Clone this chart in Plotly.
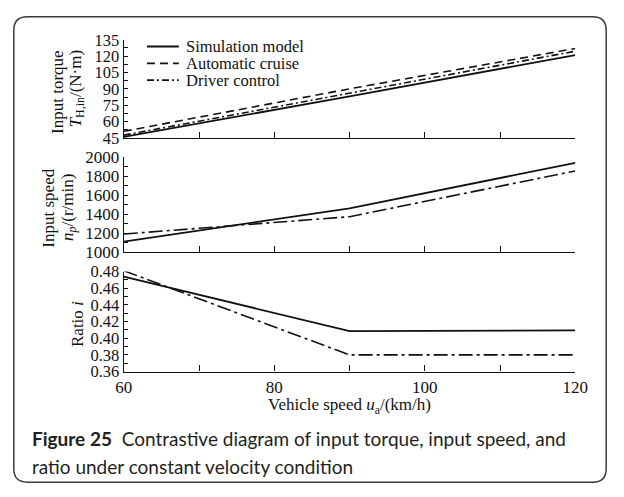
import plotly.graph_objects as go

# ---------------- data ----------------
speed = [60, 90, 120]
torque_sim = [46, 83, 121]
torque_auto = [51, 90, 127]
torque_driver = [47.5, 86, 124.5]
inspeed_sim = [1112, 1462, 1940]
inspeed_driver = [1192, 1374, 1855]
ratio_sim = [0.474, 0.4085, 0.4095]
ratio_driver = [0.481, 0.380, 0.380]

x_tickvals = [60, 80, 100, 120]
x_ticktext = ["60", "80", "100", "120"]
torque_ticks = [45, 60, 75, 90, 105, 120, 135]
inspeed_ticks = [1000, 1200, 1400, 1600, 1800, 2000]
ratio_ticks = [0.36, 0.38, 0.40, 0.42, 0.44, 0.46, 0.48]
ratio_ticktext = ["0.36", "0.38", "0.40", "0.42", "0.44", "0.46", "0.48"]

series_names = ["Simulation model", "Automatic cruise", "Driver control"]

# ---------------- geometry helpers ----------------
W, H = 624, 497
def px(x):
    return x / W
def py(y):
    return (H - y) / H

SERIF = "Liberation Serif, Times New Roman, serif"
BLACK = "#111111"

fig = go.Figure()

solid = dict(color=BLACK, width=1.8)
dashed = dict(color=BLACK, width=1.6, dash="8px,5px")
dashdot_top = dict(color=BLACK, width=1.6, dash="7px,3px,2px,3px")
dashdot_low = dict(color=BLACK, width=1.6, dash="14px,4px,3px,4px")

fig.add_trace(go.Scatter(x=speed, y=torque_sim, mode="lines", line=solid, name=series_names[0], xaxis="x", yaxis="y", showlegend=False))
fig.add_trace(go.Scatter(x=speed, y=torque_auto, mode="lines", line=dashed, name=series_names[1], xaxis="x", yaxis="y", showlegend=False))
fig.add_trace(go.Scatter(x=speed, y=torque_driver, mode="lines", line=dashdot_top, name=series_names[2], xaxis="x", yaxis="y", showlegend=False))

fig.add_trace(go.Scatter(x=speed, y=inspeed_sim, mode="lines", line=solid, name=series_names[0], xaxis="x2", yaxis="y2", showlegend=False))
fig.add_trace(go.Scatter(x=speed, y=inspeed_driver, mode="lines", line=dashdot_low, name=series_names[2], xaxis="x2", yaxis="y2", showlegend=False))

fig.add_trace(go.Scatter(x=speed, y=ratio_sim, mode="lines", line=solid, name=series_names[0], xaxis="x3", yaxis="y3", showlegend=False))
fig.add_trace(go.Scatter(x=speed, y=ratio_driver, mode="lines", line=dashdot_low, name=series_names[2], xaxis="x3", yaxis="y3", showlegend=False))

xdom = [px(119), px(587)]
doms = [[py(134), py(32)], [py(253), py(154)], [py(377), py(273)]]

def tfont(size):
    return dict(family=SERIF, size=size, color=BLACK)

def xaxis(anchor, labels):
    return dict(domain=xdom, anchor=anchor, range=[60, 120], showline=True, linecolor=BLACK, linewidth=1.3,
                ticks="inside", ticklen=6, tickwidth=1.2, tickcolor=BLACK, tickvals=x_tickvals,
                ticktext=x_ticktext, showticklabels=labels, showgrid=False, zeroline=False,
                tickfont=tfont(17),
                minor=dict(ticks="inside", ticklen=6, tickwidth=1.2, tickcolor=BLACK, dtick=10, tick0=60,
                           showgrid=False),
                fixedrange=True)

def yaxis(anchor, dom, rng, tickvals, ticktext, minor_dtick, minor_tick0, size):
    return dict(domain=dom, anchor=anchor, range=rng, showline=True, linecolor=BLACK, linewidth=1.3,
                ticks="inside", ticklen=4, tickwidth=1.2, tickcolor=BLACK, tickvals=tickvals, ticktext=ticktext,
                showgrid=False, zeroline=False, tickfont=tfont(size), ticksuffix="\u00a0",
                minor=dict(ticks="inside", ticklen=4, tickwidth=1.2, tickcolor=BLACK, dtick=minor_dtick,
                           tick0=minor_tick0, showgrid=False), fixedrange=True)

layout = dict(
    width=W, height=H, margin=dict(l=0, r=0, t=0, b=0),
    paper_bgcolor="white", plot_bgcolor="rgba(0,0,0,0)", showlegend=False,
    xaxis=xaxis("y", False), xaxis2=xaxis("y2", False), xaxis3=xaxis("y3", True),
    yaxis=yaxis("x", doms[0], [45, 135], torque_ticks, [str(v) for v in torque_ticks], 7.5, 45, 16.5),
    yaxis2=yaxis("x2", doms[1], [1000, 2000], inspeed_ticks, [str(v) for v in inspeed_ticks], 100, 1000, 17),
    yaxis3=yaxis("x3", doms[2], [0.36, 0.48], ratio_ticks, ratio_ticktext, 0.01, 0.36, 16.5),
)
fig.update_layout(**layout)

annots = []
def ann(text, x, y, size=17, angle=0, xanchor="center", yanchor="middle", family=SERIF, align="center", color=BLACK):
    annots.append(dict(text=text, x=px(x), y=py(y), xref="paper", yref="paper", showarrow=False,
                       textangle=angle, xanchor=xanchor, yanchor=yanchor, align=align,
                       font=dict(family=family, size=size, color=color)))

# y titles
ann("Input torque", 51, 86, angle=-90)
ann("<i>T</i><sub>H,in</sub>/(N·m)", 70, 83, angle=-90)
ann("Input speed", 41, 207, angle=-90)
ann("<i>n</i><sub><i>p</i></sub>/(r/min)", 62, 206, angle=-90)
ann("Ratio <i>i</i>", 71, 327, angle=-90)
# x title
ann("Vehicle speed <i>u</i><sub>a</sub>/(km/h)", 353, 413)

# legend (manual)
leg_rows = [39, 56.5, 74]
leg_styles = [solid, dashed, dashdot_top]
shapes = []
for name, yy, st in zip(series_names, leg_rows, leg_styles):
    shapes.append(dict(type="line", xref="paper", yref="paper", x0=px(143), x1=px(176), y0=py(yy), y1=py(yy),
                       line=dict(color=st["color"], width=st["width"], dash=st.get("dash", "solid"))))
    ann(name, 181, yy, size=16.5, xanchor="left")

# caption
CAP = "Lato, Open Sans, sans-serif"
ann("<b>Figure 25</b>\u00a0\u00a0Contrastive diagram of input torque, input speed, and",
    22, 447, size=19, xanchor="left", family=CAP, align="left", color="#231f20")
ann("ratio under constant velocity condition",
    22, 476, size=19, xanchor="left", family=CAP, align="left", color="#231f20")

# rounded border
x0, x1, y0, y1, r = 5, 619, 8, 492, 14
rx, ry = r / W, r / H
X0, X1, Y0, Y1 = px(x0), px(x1), py(y0), py(y1)
path = (f"M {X0+rx},{Y0} L {X1-rx},{Y0} Q {X1},{Y0} {X1},{Y0-ry} L {X1},{Y1+ry} Q {X1},{Y1} {X1-rx},{Y1} "
        f"L {X0+rx},{Y1} Q {X0},{Y1} {X0},{Y1+ry} L {X0},{Y0-ry} Q {X0},{Y0} {X0+rx},{Y0} Z")
shapes.append(dict(type="path", xref="paper", yref="paper", path=path, line=dict(color="#3a3a3a", width=1.5)))

fig.update_layout(annotations=annots, shapes=shapes)
fig.write_html("out.html")
